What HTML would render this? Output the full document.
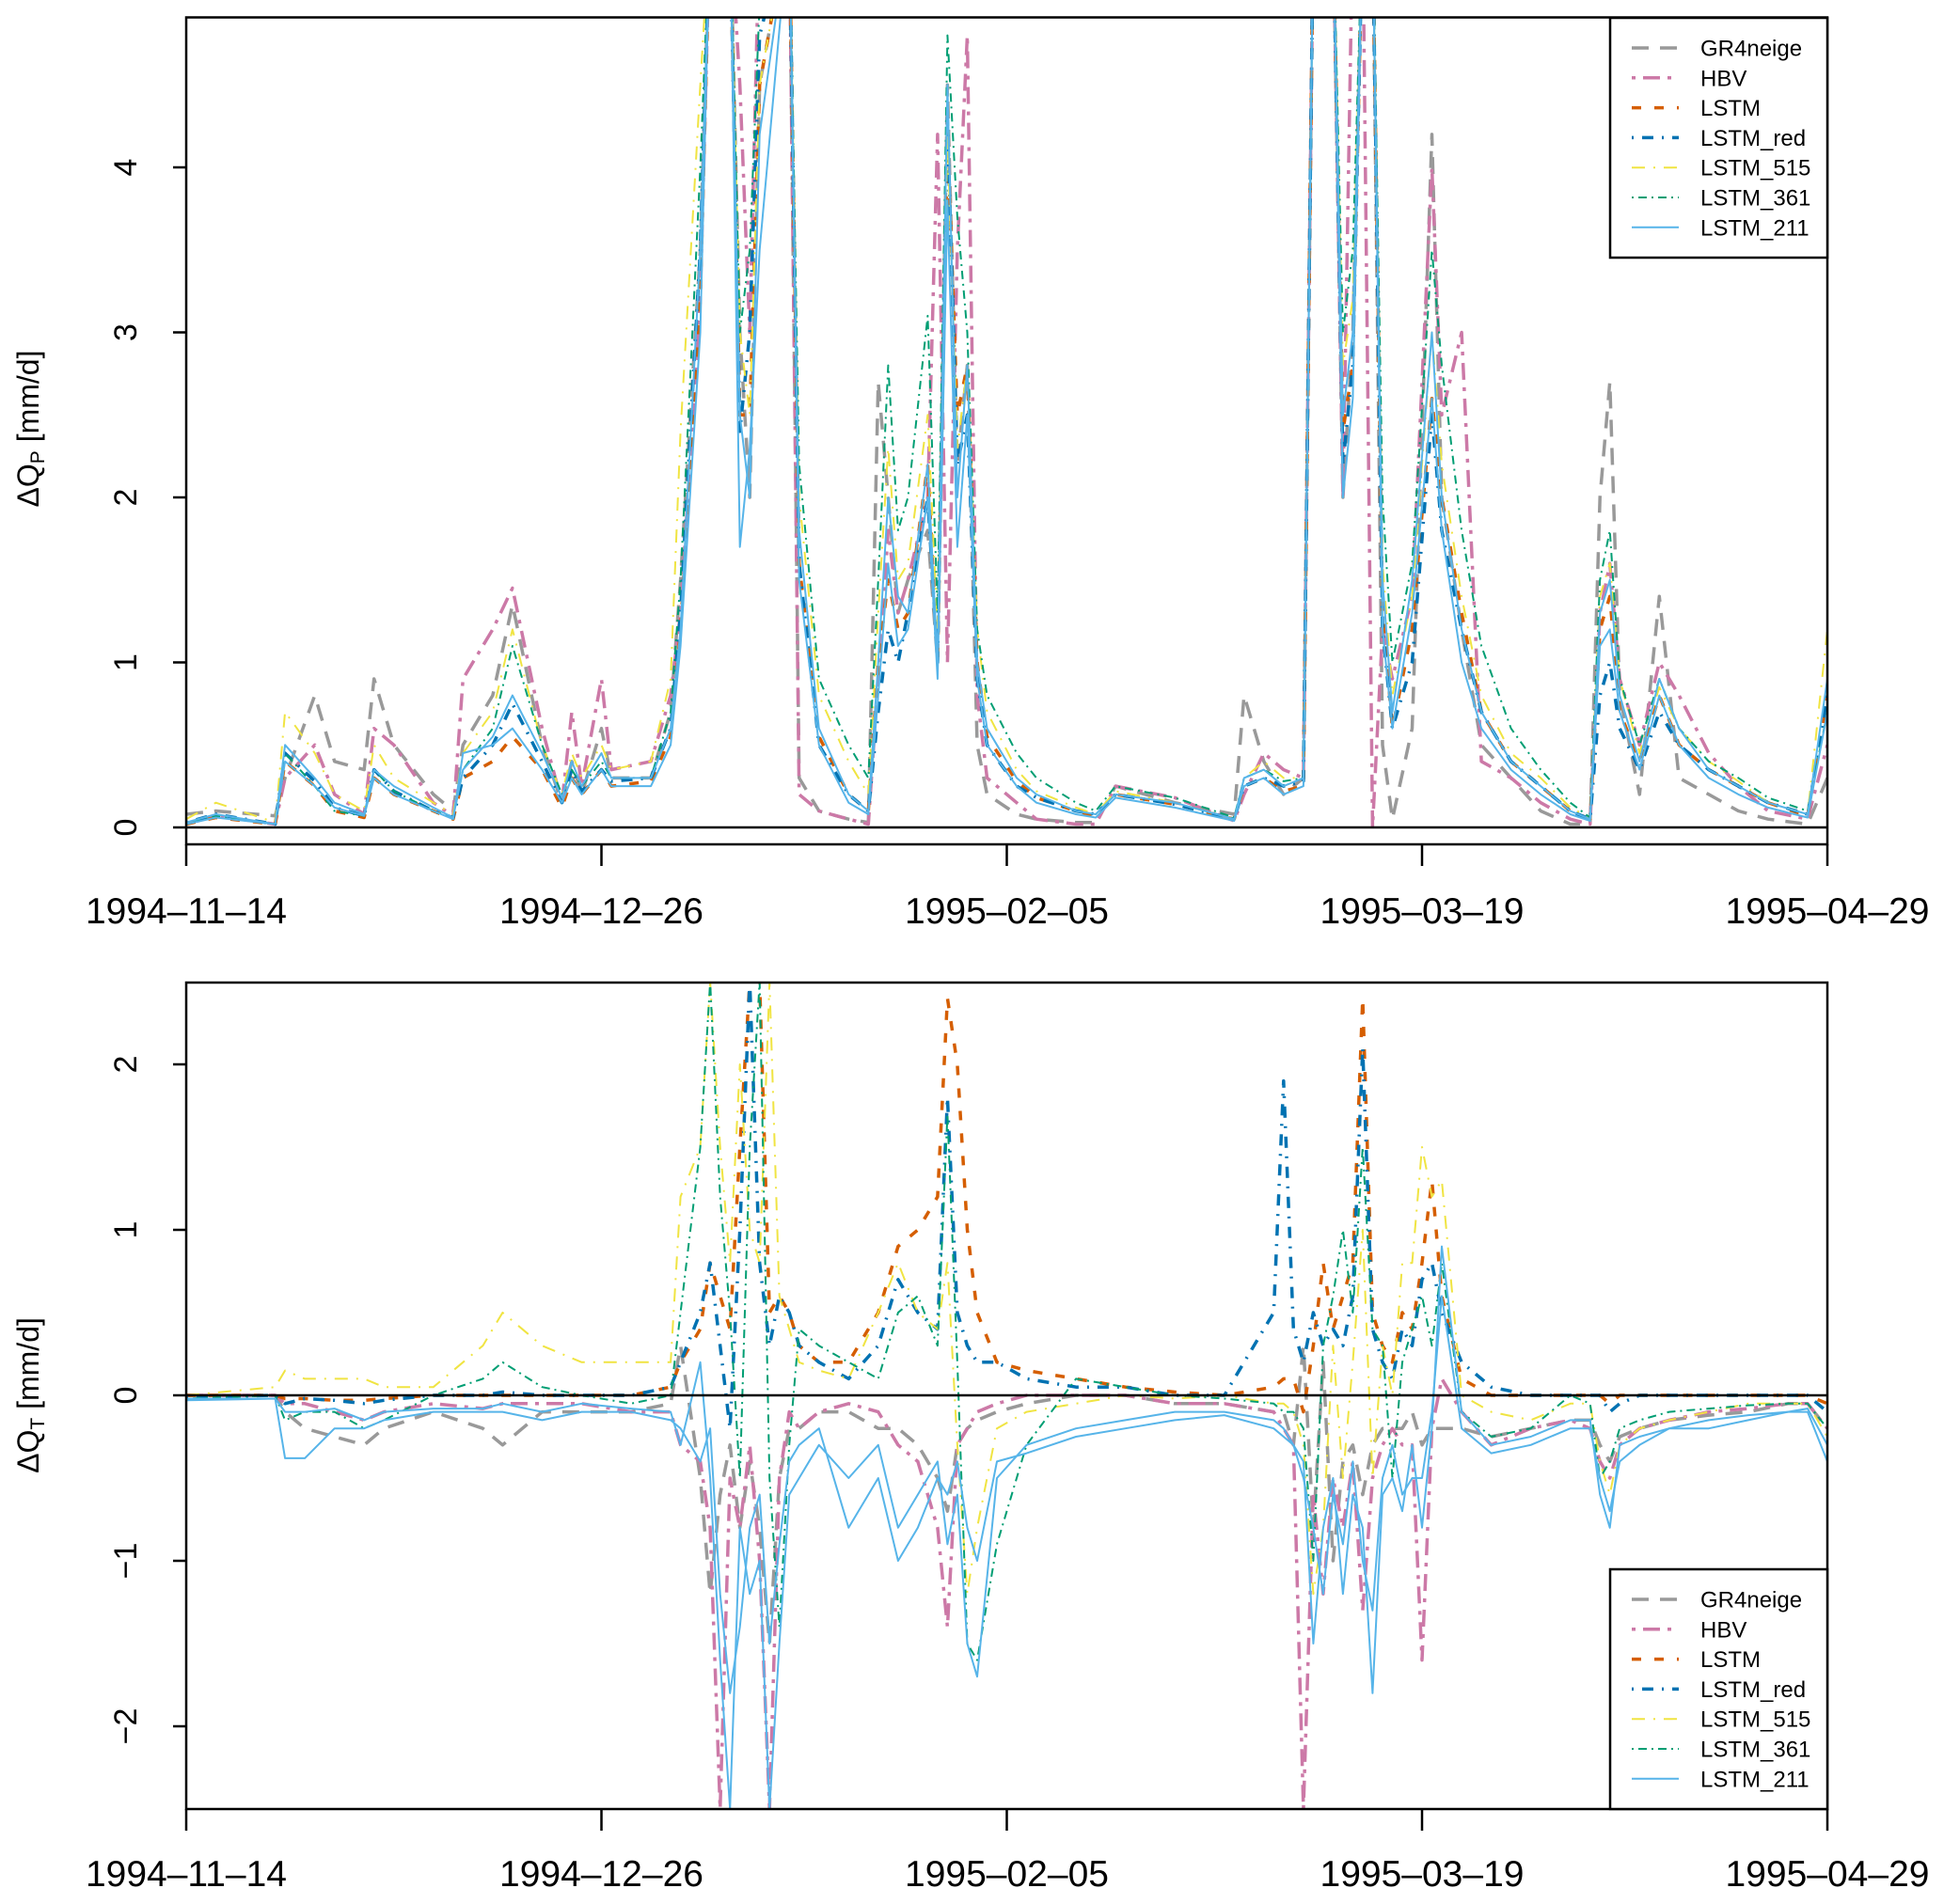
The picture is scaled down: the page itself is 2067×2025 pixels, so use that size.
<!DOCTYPE html>
<html><head><meta charset="utf-8"><style>
html,body{margin:0;padding:0;background:#fff}
svg{display:block;font-family:"Liberation Sans",Arial,sans-serif}
</style></head><body>
<svg id="chart" width="2067" height="2025" viewBox="0 0 2067 2025" xmlns="http://www.w3.org/2000/svg">
<defs>
<clipPath id="clipTop"><rect x="198" y="18.5" width="1745" height="879.5"/></clipPath>
<clipPath id="clipBot"><rect x="198" y="1045" width="1745" height="879"/></clipPath>
</defs>
<g id="top"></g>
<g id="bot"></g>
</svg>
<script>
const NS="http://www.w3.org/2000/svg";
const dateLabels=["1994-11-14","1994-12-26","1995-02-05","1995-03-19","1995-04-29"];
const dateTickDays=[0,42,83,125,166];
const topYTicks=[0,1,2,3,4];
const botYTicks=[-2,-1,0,1,2];
const modelNames=["GR4neige","HBV","LSTM","LSTM_red","LSTM_515","LSTM_361","LSTM_211"];

const topDays=[0,3,9,10,13,15,18,19,21,25,27,28,31,33,36,38,39,40,42,43,47,49,50,52,53,55,56,57,58,61,62,64,67,69,70,71,72,73,75,76,77,78,79,80,81,84,86,90,92,94,100,106,107,109,111,113,114,116,117,118,119,120,121,122,124,126,127,129,131,134,137,140,142,143,144,145,147,149,151,154,157,160,164,166];
const topGR4=[.08,.1,.07,.3,.8,.4,.35,.9,.5,.2,.1,.5,.8,1.35,.5,.15,.4,.2,.6,.3,.3,.7,1.5,3.5,5.5,5.5,3,2,4.5,5.5,.3,.1,.05,.03,2.7,2.0,1.3,1.5,1.8,1.0,4.5,2.2,2.8,.5,.2,.08,.05,.03,.03,.25,.15,.08,.8,.4,.2,.3,5.5,5.5,2,3,5.5,5.5,.5,.05,.6,4.2,2,1.2,.5,.3,.1,.02,.02,2.0,2.7,.8,.2,1.4,.3,.2,.1,.05,.02,.3];
const topHBV=[.02,.07,.02,.3,.5,.2,.08,.6,.5,.15,.07,.9,1.2,1.45,.6,.15,.7,.25,.9,.35,.4,.8,1.3,3.2,5.5,5.5,4.5,3,5.5,5.5,.2,.1,.05,.02,.9,1.8,1.3,1.5,2.0,4.2,1,3.5,4.8,.8,.3,.15,.05,.02,.02,.25,.18,.04,.2,.45,.35,.3,5.5,5.5,2,5.5,5.5,0,1.2,.9,1.4,4,2.5,3,.4,.3,.15,.05,.02,1.3,1.6,.9,.5,1.0,.8,.45,.25,.1,.05,.5];
const topLSTM=[.02,.06,.02,.4,.25,.1,.06,.3,.2,.1,.05,.3,.4,.55,.35,.12,.3,.2,.35,.25,.28,.55,1.2,3.2,5.5,5.5,2.5,2.5,4.5,5.5,1.6,.55,.2,.1,1.0,1.5,1.2,1.3,2.2,1.0,4.2,2.5,2.8,1.0,.55,.28,.18,.1,.07,.2,.14,.05,.25,.3,.22,.25,5.5,5.5,2.4,2.8,5.5,5.5,1.3,.6,1.2,2.6,2.0,1.3,.7,.4,.25,.1,.05,1.2,1.4,.7,.4,.8,.5,.35,.25,.15,.07,.8];
const topLSTMred=[.03,.08,.02,.45,.28,.12,.07,.35,.22,.1,.06,.3,.5,.75,.4,.15,.35,.22,.35,.28,.3,.6,1.3,3.5,5.5,5.5,2.4,3,4.8,5.5,1.6,.5,.2,.1,.7,1.2,1.0,1.3,2.0,1.0,4.3,2.2,2.5,.9,.5,.25,.18,.1,.08,.2,.14,.05,.25,.3,.25,.28,5.5,5.5,2.2,2.8,5.5,5.5,1.2,.6,1.0,2.5,1.8,1.2,.7,.4,.25,.1,.05,.8,1.0,.6,.35,.7,.5,.35,.25,.15,.08,.8];
const top515=[.05,.15,.03,.7,.45,.2,.1,.5,.3,.15,.08,.45,.7,1.2,.5,.2,.45,.3,.5,.35,.4,.9,2.4,4.5,5.5,5.5,3,2.5,4.5,5.5,2,.8,.4,.2,1.3,2.3,1.5,1.6,2.5,1.2,4.2,2.3,2.8,1.2,.7,.35,.22,.12,.08,.22,.15,.05,.3,.4,.3,.3,5.5,5.5,2.8,3.2,5.5,5.5,1.6,.8,1.4,3,2.2,1.4,.8,.45,.3,.12,.06,1.4,1.6,.9,.45,.85,.6,.4,.28,.15,.08,1.2];
const top361=[.03,.07,.02,.45,.25,.1,.07,.35,.22,.1,.06,.35,.6,1.1,.5,.2,.35,.25,.4,.3,.3,.7,1.5,4,5.5,5.5,3,3.5,5,5.5,2.2,.9,.5,.3,1.5,2.8,1.8,2,3.1,1.3,4.8,3.7,3,1.2,.8,.45,.3,.15,.1,.25,.18,.06,.3,.35,.28,.3,5.5,5.5,3,3.5,5.5,5.5,2,1,1.6,3.5,2.8,1.8,1.1,.6,.35,.15,.06,1.5,1.8,.9,.5,.9,.6,.4,.3,.18,.1,.7];
const top211a=[.03,.08,.02,.5,.3,.15,.08,.35,.25,.12,.06,.35,.55,.8,.45,.18,.4,.25,.45,.3,.3,.6,1.2,3.5,5.5,5.5,2.5,2.0,4.2,5.5,1.8,.6,.2,.1,1.0,2.0,1.4,1.3,2.2,1.0,4.5,2.0,2.8,1.0,.6,.3,.2,.1,.08,.2,.15,.05,.3,.35,.25,.3,5.5,5.5,2.5,3,5.5,5.5,1.5,.7,1.5,3,2,1.2,.7,.4,.25,.1,.05,1.3,1.5,.8,.4,.9,.6,.35,.25,.15,.08,.9];
const top211b=[.02,.06,.02,.4,.25,.12,.07,.3,.2,.1,.05,.45,.5,.6,.35,.15,.3,.2,.35,.25,.25,.5,1.1,3,5.5,5.5,1.7,2.3,3.5,5.5,1.5,.5,.15,.08,.8,1.6,1.1,1.2,2.0,.9,3.8,1.7,2.5,.9,.5,.25,.15,.08,.06,.18,.12,.04,.25,.3,.2,.25,5.5,5.5,2.0,2.6,5.5,5.5,1.2,.6,1.3,2.6,1.8,1.0,.6,.35,.2,.08,.04,1.1,1.2,.7,.35,.8,.5,.3,.2,.12,.06,.7];

const botDays=[0,9,10,12,15,18,20,25,30,32,36,40,45,49,50,52,53,54,55,56,57,58,59,60,61,62,64,67,70,72,74,76,77,78,79,80,82,85,90,95,100,105,110,111,112,113,114,115,116,117,118,119,120,121,122,123,124,125,126,127,129,132,136,140,142,143,144,145,147,150,154,158,162,164,166];
const botGR4=[0,0,-.1,-.2,-.25,-.3,-.2,-.1,-.2,-.3,-.1,-.1,-.1,-.05,.3,-.5,-1.2,-.6,-.3,-.8,-.4,-.8,-1.5,-.5,-.2,-.2,-.1,-.1,-.2,-.2,-.3,-.5,-.7,-.3,-.2,-.15,-.1,-.05,0,0,-.05,-.05,-.1,-.1,-.3,.3,-.8,.2,-1.0,-.4,-.3,-.6,-.3,-.2,-.2,-.2,-.1,-.3,-.2,-.2,-.2,-.25,-.2,-.15,-.15,-.3,-.4,-.25,-.2,-.15,-.12,-.1,-.05,-.05,-.2];
const botHBV=[0,0,-.05,-.05,-.1,-.15,-.1,-.05,-.08,-.05,-.05,-.05,-.1,-.1,-.3,-.4,-.8,-2.5,-.5,-.8,-.3,-1.0,-2.5,-.5,-.1,-.2,-.1,-.05,-.1,-.3,-.4,-.8,-1.4,-.3,-.2,-.1,-.05,0,0,0,-.05,-.05,-.1,-.2,-.3,-2.5,-.6,-1.2,-.5,-.8,-.4,-1.3,-.5,-.3,-.2,-.3,-.3,-1.6,-.2,.1,-.1,-.3,-.2,-.15,-.2,-.4,-.5,-.3,-.2,-.15,-.1,-.08,-.05,-.05,-.2];
const botLSTM=[0,0,-.02,-.02,-.03,-.03,-.02,0,0,0,0,0,0,.05,.2,.4,.8,.6,.4,1.5,2.5,2.5,.5,.6,.5,.3,.2,.2,.5,.9,1.0,1.2,2.4,2.0,1.0,.5,.2,.15,.1,.05,.02,0,.05,.1,.1,-.1,.3,.8,.4,.6,.8,2.4,.5,.3,.2,.5,.4,.8,1.3,.6,.1,0,0,0,0,0,-.05,0,0,0,0,0,0,0,-.05];
const botLSTMred=[-.01,0,-.05,-.02,-.03,-.05,-.03,0,0,.02,0,0,0,.05,.2,.5,.8,.3,-.2,1.0,2.5,.8,.3,.6,.5,.3,.2,.1,.3,.7,.5,.4,1.8,.5,.3,.2,.2,.1,.05,.05,0,0,.5,1.9,.4,.2,.5,.3,.4,.3,.6,2.1,.4,.2,.1,.4,.3,.7,.8,.5,.2,.05,0,0,0,0,-.1,-.05,0,0,0,0,0,0,-.1];
const bot515=[0,.05,.15,.1,.1,.1,.05,.05,.3,.5,.3,.2,.2,.2,1.2,1.5,2.5,1.5,.8,2.0,1.0,.8,2.5,.6,.4,.2,.15,.1,.5,.8,.5,.4,.8,-.3,-1.2,-.8,-.2,-.1,-.05,0,-.02,0,-.05,-.05,-.1,-.3,-1.2,-.8,.3,-.5,.2,1.0,-.5,.3,0,.8,.8,1.5,1.2,1.3,0,-.1,-.15,-.05,-.05,-.4,-.6,-.3,-.2,-.15,-.1,-.05,-.05,-.05,-.25];
const bot361=[-.02,0,-.15,-.1,-.1,-.2,-.15,0,.1,.2,.05,0,-.05,0,.5,1.5,2.5,1.2,.5,-.5,1.5,2.5,-.5,-1.4,-.3,.4,.3,.2,.1,.5,.6,.3,1.7,.2,-1.5,-1.6,-.9,-.3,.1,.05,0,-.02,-.05,-.1,-.1,-.2,-1.0,.3,.6,1.0,.5,1.5,.4,.3,-.5,.2,.4,.6,.3,.8,-.1,-.25,-.2,0,-.05,-.5,-.4,-.2,-.15,-.1,-.08,-.06,-.05,-.05,-.2];
const bot211a=[-.03,-.02,-.1,-.1,-.08,-.15,-.1,-.08,-.08,-.05,-.1,-.05,-.08,-.1,-.3,.2,-.5,-1.6,-2.5,-.8,-1.2,-1.0,-2.5,-1.5,-.6,-.5,-.3,-.5,-.3,-.8,-.6,-.4,-.9,-.6,-1.5,-1.7,-.5,-.3,-.2,-.15,-.1,-.1,-.15,-.2,-.3,-.4,-1.5,-.8,-.5,-1.2,-.6,-.8,-1.8,-.6,-.5,-.7,-.3,-.8,-.2,.9,-.1,-.3,-.25,-.15,-.15,-.6,-.8,-.3,-.25,-.2,-.2,-.15,-.1,-.1,-.4];
const bot211b=[-.02,-.02,-.38,-.38,-.2,-.2,-.15,-.1,-.1,-.1,-.15,-.1,-.1,-.15,-.2,-.4,-.2,-1.2,-1.8,-1.4,-.8,-.6,-1.5,-.9,-.4,-.3,-.2,-.8,-.5,-1.0,-.8,-.5,-.6,-.4,-.8,-1.0,-.4,-.35,-.25,-.2,-.15,-.12,-.2,-.25,-.3,-.5,-.8,-1.2,-.6,-.9,-.4,-1.0,-1.3,-.5,-.3,-.6,-.5,-.5,-.1,.6,-.2,-.35,-.3,-.2,-.2,-.5,-.7,-.4,-.3,-.2,-.15,-.12,-.1,-.08,-.3];

const styles={
 GR4neige:{c:"#999999",w:3.5,d:"18 12"},
 HBV:{c:"#CC79A7",w:3.5,d:"4 8 18 8"},
 LSTM:{c:"#D55E00",w:3.5,d:"10 14"},
 LSTM_red:{c:"#0072B2",w:3.5,d:"2 9 12 9"},
 LSTM_515:{c:"#F0E442",w:2,d:"14 9 2 9"},
 LSTM_361:{c:"#009E73",w:2,d:"2 5 9 5"},
 LSTM_211:{c:"#56B4E9",w:2,d:""}
};
const X0=198,X1=1943;
function xs(d){return X0+d/166*(X1-X0);}
function yTop(v){return 880-v*175.5;}
function yBot(v){return 1484-v*176;}

function mk(tag,attrs,parent){const e=document.createElementNS(NS,tag);for(const k in attrs)e.setAttribute(k,attrs[k]);parent.appendChild(e);return e;}

function drawSeries(g,days,vals,model,ys,clip,name){
  const s=styles[model];
  const n=Math.min(days.length,vals.length);
  let p="";
  for(let i=0;i<n;i++)p+=(i?"L":"M")+xs(days[i]).toFixed(1)+" "+ys(vals[i]).toFixed(1);
  const e=mk("path",{d:p,fill:"none",stroke:s.c,"stroke-width":s.w,"stroke-dasharray":s.d,"clip-path":"url(#"+clip+")","stroke-linejoin":"round"},g);
  
  
}

function panel(g,ys,top,bottom,yTicks,clip,series,legTop,ylabSub,ylabY,labelY,prefix){
  series.forEach(s=>drawSeries(g,s[0],s[1],s[2],ys,clip,prefix+"-line-"+s[3]));
  const zl=mk("line",{x1:X0,x2:X1,y1:ys(0),y2:ys(0),stroke:"#000","stroke-width":2.5},g);
  
  
  const box=mk("rect",{x:X0,y:top,width:X1-X0,height:bottom-top,fill:"none",stroke:"#000","stroke-width":2.5},g);
  
  
  yTicks.forEach(t=>{
    const y=ys(t);
    const tk=mk("line",{x1:X0-14,x2:X0,y1:y,y2:y,stroke:"#000","stroke-width":2.5},g);
    
    
    const tx=mk("text",{x:0,y:0,transform:"translate(145,"+y+") rotate(-90)","text-anchor":"middle","font-size":34},g);
    tx.textContent=(t<0?"\u2212"+(-t):""+t);
    
    
  });
  dateTickDays.forEach((d,i)=>{
    const x=xs(d);
    const tk=mk("line",{x1:x,x2:x,y1:bottom,y2:bottom+23,stroke:"#000","stroke-width":2.5},g);
    
    
    const tx=mk("text",{x:x,y:labelY,"text-anchor":"middle","font-size":39},g);
    tx.textContent=dateLabels[i].replace(/-/g,"\u2013");
    
    
  });
  const yl=mk("text",{x:0,y:0,transform:"translate(41,"+ylabY+") rotate(-90)","text-anchor":"middle","font-size":32},g);
  yl.innerHTML='\u0394Q<tspan font-size="21" dy="6">'+ylabSub+'</tspan><tspan dy="-6"> [mm/d]</tspan>';
  
  
  const lg=mk("g",{},g);
  
  
  const lb=mk("rect",{x:1712,y:legTop,width:231,height:255,fill:"#fff",stroke:"#000","stroke-width":2.5},lg);
  
  
  modelNames.forEach((m,i)=>{
    const y=legTop+32+i*31.8;
    const s=styles[m];
    const ln=mk("line",{x1:1735,x2:1785,y1:y,y2:y,stroke:s.c,"stroke-width":s.w,"stroke-dasharray":s.d},lg);
    
    
    const t=mk("text",{x:1808,y:y+8.5,"font-size":24},lg);
    t.textContent=m;
    
    
  });
}

panel(document.getElementById("top"),yTop,18.5,898,topYTicks,"clipTop",[
 [topDays,topGR4,"GR4neige","gr4neige"],[topDays,topHBV,"HBV","hbv"],[topDays,topLSTM,"LSTM","lstm"],
 [topDays,topLSTMred,"LSTM_red","lstm-red"],[topDays,top515,"LSTM_515","lstm-515"],[topDays,top361,"LSTM_361","lstm-361"],
 [topDays,top211a,"LSTM_211","lstm-211-a"],[topDays,top211b,"LSTM_211","lstm-211-b"]
],19,"P",456,982,"top");
panel(document.getElementById("bot"),yBot,1045,1924,botYTicks,"clipBot",[
 [botDays,botGR4,"GR4neige","gr4neige"],[botDays,botHBV,"HBV","hbv"],[botDays,botLSTM,"LSTM","lstm"],
 [botDays,botLSTMred,"LSTM_red","lstm-red"],[botDays,bot515,"LSTM_515","lstm-515"],[botDays,bot361,"LSTM_361","lstm-361"],
 [botDays,bot211a,"LSTM_211","lstm-211-a"],[botDays,bot211b,"LSTM_211","lstm-211-b"]
],1669,"T",1484,2006,"bottom");
</script>
</body></html>
